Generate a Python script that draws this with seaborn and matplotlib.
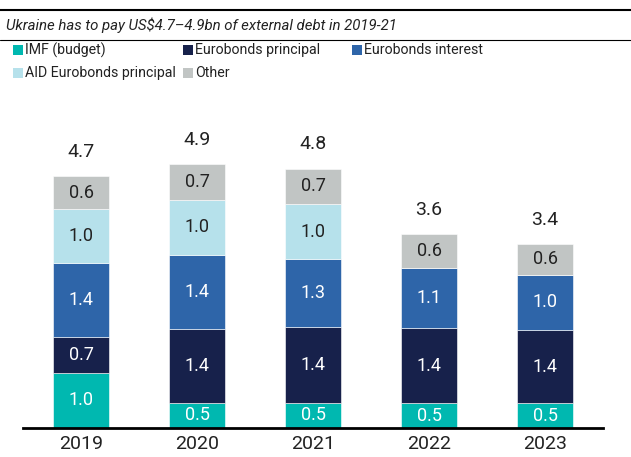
import numpy as np
import pandas as pd
import matplotlib
matplotlib.use("Agg")
import matplotlib.pyplot as plt
from matplotlib.patches import Rectangle
from matplotlib.lines import Line2D
import seaborn as sns

# data (US$bn)
years = ["2019", "2020", "2021", "2022", "2023"]
imf_budget = [1.03, 0.47, 0.47, 0.46, 0.46]
euro_principal = [0.67, 1.37, 1.41, 1.39, 1.36]
euro_interest = [1.36, 1.38, 1.26, 1.13, 1.03]
aid_principal = [1.00, 1.02, 1.02, 0.0, 0.0]
other = [0.62, 0.66, 0.66, 0.62, 0.57]

series_names = ["IMF (budget)", "Eurobonds principal", "Eurobonds interest",
                "AID Eurobonds principal", "Other"]
series_vals = [imf_budget, euro_principal, euro_interest, aid_principal, other]
colors = ["#00B8B0", "#17214B", "#2E65A9", "#B6E1EB", "#C1C5C4"]
label_colors = ["white", "white", "white", "#222222", "#222222"]

sns.set_style("white")
plt.rcParams["font.family"] = ["Roboto", "DejaVu Sans"]

W, H = 631, 457
fig = plt.figure(figsize=(W / 100, H / 100), dpi=100)
ax = fig.add_axes([23 / W, (H - 428) / H, 580 / W, 296 / H])

bottom = np.zeros(len(years))
for name, vals, col, lcol in zip(series_names, series_vals, colors, label_colors):
    vals = np.array(vals)
    sns.barplot(x=years, y=vals, bottom=bottom, color=col, saturation=1,
                width=0.49, edgecolor="white", linewidth=0.4, ax=ax)
    cont = ax.containers[-1]
    labels = ["%.1f" % v if v > 0 else "" for v in vals]
    ax.bar_label(cont, labels=labels, label_type="center", color=lcol, fontsize=13)
    bottom = bottom + vals

totals = bottom
for i, t in enumerate(totals):
    ax.annotate("%.1f" % t, (i, t), xytext=(0, 11), textcoords="offset points",
                ha="center", va="bottom", fontsize=14, color="#222222")

ax.set_xlim(-0.5, 4.5)
ax.set_ylim(0, 5.5)
ax.set_xlabel("")
ax.set_ylabel("")
ax.set_yticks([])
for s in ["top", "right", "left"]:
    ax.spines[s].set_visible(False)
ax.spines["bottom"].set_linewidth(2)
ax.spines["bottom"].set_color("black")
ax.tick_params(axis="x", length=0, labelsize=14, pad=5, colors="#222222")

# header rules and subtitle
fig.add_artist(Line2D([0, 1], [1 - 10 / H] * 2, color="black", lw=1.5))
fig.add_artist(Line2D([0, 1], [1 - 40 / H] * 2, color="black", lw=0.8))
fig.text(6 / W, 1 - 25 / H, "Ukraine has to pay US$4.7\u20134.9bn of external debt in 2019-21",
         style="italic", fontsize=10.8, va="center", ha="left", color="#222222")

# legend drawn at fixed column positions
legend_pos = [(13, 50), (183, 50), (352, 50), (13, 73), (183, 73)]
for (lx, ly), name, col in zip(legend_pos, series_names, colors):
    fig.add_artist(Rectangle((lx / W, 1 - (ly + 5) / H), 10 / W, 10 / H,
                             transform=fig.transFigure, color=col, lw=0))
    fig.text((lx + 12) / W, 1 - ly / H, name, fontsize=10.2, va="center",
             ha="left", color="#222222")

fig.savefig("out.png", dpi=100)
